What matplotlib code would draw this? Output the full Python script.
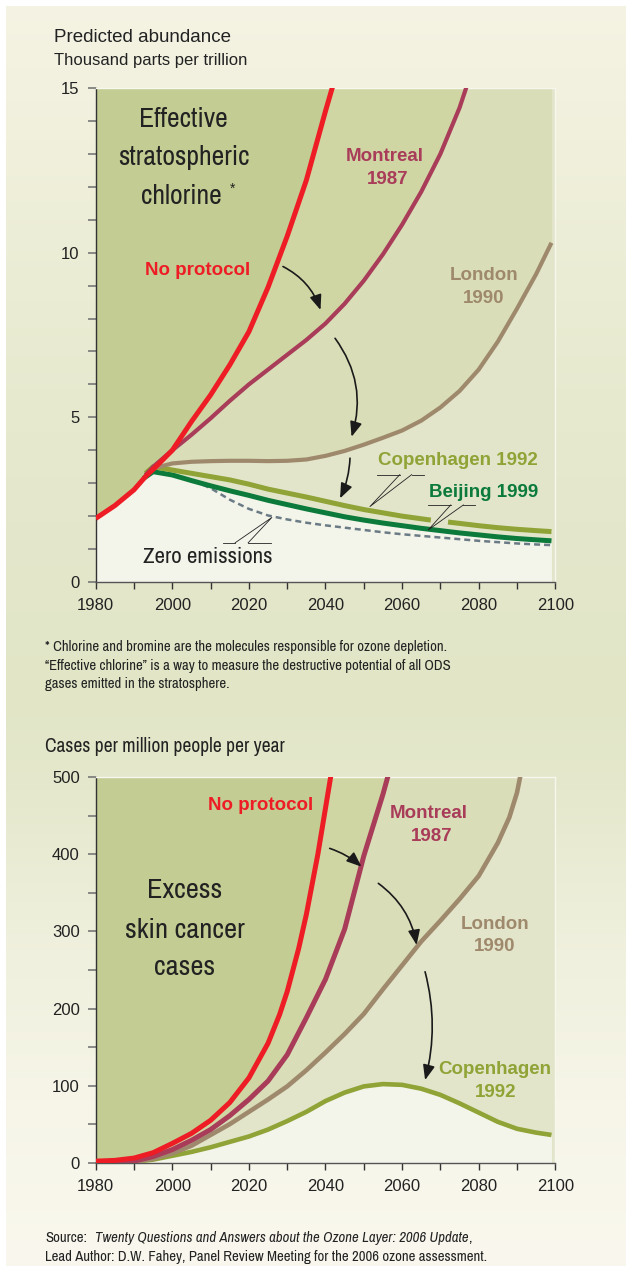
import numpy as np
import matplotlib.pyplot as plt
from matplotlib import font_manager
from matplotlib.colors import to_rgb

# effective stratospheric chlorine, thousand parts per trillion
nop_years = [1980, 1985, 1990, 1993, 1995, 2000, 2005, 2010, 2015, 2020, 2025, 2030, 2035, 2040, 2042]
nop_cl = [1.93, 2.32, 2.8, 3.2, 3.42, 4.0, 4.87, 5.68, 6.59, 7.6, 8.95, 10.5, 12.2, 14.3, 15.1]

mon_years = [1993, 1995, 2000, 2005, 2010, 2015, 2020, 2025, 2030, 2035, 2040, 2045, 2050, 2055, 2060, 2065, 2070, 2075, 2077]
mon_cl = [3.25, 3.5, 4.0, 4.47, 4.97, 5.5, 6.0, 6.45, 6.9, 7.35, 7.85, 8.45, 9.15, 9.95, 10.85, 11.85, 13.0, 14.4, 15.1]

lon_years = [1993, 1995] + list(range(2000, 2100, 5)) + [2099]
lon_cl = [3.25, 3.45, 3.6, 3.65, 3.67, 3.68, 3.68, 3.67, 3.68, 3.72, 3.83, 3.98, 4.17, 4.38, 4.6,
          4.9, 5.3, 5.8, 6.45, 7.3, 8.3, 9.35, 10.3]

cop_years = [1993, 1995, 2000, 2005, 2010, 2015, 2020, 2025, 2030, 2035, 2040, 2045, 2050, 2055, 2060, 2065,
             2067.5, 2070, 2072, 2075, 2080, 2085, 2090, 2095, 2099]
cop_cl = [3.3, 3.5, 3.4, 3.3, 3.2, 3.1, 2.97, 2.82, 2.7, 2.58, 2.45, 2.32, 2.2, 2.1, 2.0, 1.92,
          1.88, np.nan, 1.82, 1.78, 1.71, 1.65, 1.6, 1.56, 1.53]

bj_years = [1992.5, 1995] + list(range(2000, 2100, 5)) + [2099]
bj_cl = [3.15, 3.35, 3.25, 3.08, 2.92, 2.77, 2.63, 2.48, 2.35, 2.22, 2.1, 1.98, 1.88, 1.79, 1.71,
         1.63, 1.56, 1.49, 1.43, 1.37, 1.32, 1.28, 1.25]

zero_years = [2008, 2010] + list(range(2015, 2100, 5)) + [2099]
zero_cl = [2.95, 2.85, 2.5, 2.22, 2.02, 1.9, 1.8, 1.72, 1.65, 1.58, 1.51, 1.45, 1.4, 1.35, 1.3,
           1.25, 1.21, 1.17, 1.14, 1.12]

# excess skin cancer, cases per million people per year
sc_nop_years = [1980, 1985, 1990, 1995, 2000, 2005, 2010, 2015, 2020, 2025, 2028, 2030, 2033, 2035, 2038, 2040, 2041.5]
sc_nop = [2, 3, 6, 13, 25, 38, 55, 78, 110, 155, 192, 222, 278, 322, 400, 460, 505]

sc_mon_years = list(range(1980, 2056, 5)) + [2056.5]
sc_mon = [0, 0, 2, 8, 17, 29, 43, 61, 82, 106, 140, 188, 238, 303, 398, 478, 505]

sc_lon_years = list(range(1980, 2086, 5)) + [2088, 2090, 2091]
sc_lon = [0, 0, 1, 5, 12, 22, 36, 50, 66, 82, 99, 120, 143, 167, 193, 225, 256, 287, 314, 342,
          372, 415, 448, 480, 505]

sc_cop_years = list(range(1980, 2100, 5)) + [2099]
sc_cop = [0, 0, 1, 4, 9, 14, 20, 27, 34, 43, 54, 66, 80, 91, 99, 102, 101, 96, 88, 77, 65, 53, 44, 39, 36]

# colours
C_NOP = '#ee1c25'
C_MON = '#a83c59'
C_LON = '#9f896d'
C_COP = '#8fa336'
C_BJ = '#0b7a3b'
C_ZERO = '#6b7b85'
F_NOP = '#c3cc92'
F_MON = '#d0d6a3'
F_LON = '#d9ddb8'
F_MID = '#e2e5ca'
F_LOW = '#f3f4ea'

names = {f.name for f in font_manager.fontManager.ttflist}
PLAIN = 'Liberation Sans'
NARROW = PLAIN
for cand in ['Liberation Sans Narrow', 'Arial Narrow', 'Archivo Narrow', 'Roboto Condensed',
             'PT Sans Narrow', 'Fira Sans Condensed', 'Sofia Sans Condensed']:
    if cand in names:
        NARROW = cand
        break
# keep widths close to the condensed layout if no narrow face exists
NS = 1.0 if NARROW != PLAIN else 0.82

W, H = 626, 1266
fig = plt.figure(figsize=(W / 100, H / 100), dpi=100)
fig.patch.set_facecolor('white')

# soft vertical page gradient
stop_y = [0, 100, 300, 520, 700, 790, 920, 1100, 1266]
stop_c = ['#f5f4e4', '#f2f1df', '#eaecd3', '#e4e7cb', '#e2e6c7', '#e5e8cc', '#eeefdb', '#f6f5e8', '#faf8ee']
rows = np.arange(H)
rgb = np.array([to_rgb(c) for c in stop_c])
grad = np.stack([np.interp(rows, stop_y, rgb[:, k]) for k in range(3)], axis=1)
bg = fig.add_axes([6 / W, 0, 620 / W, 1260 / H])
bg.imshow(grad[6:, None, :], aspect='auto', extent=[0, 1, 0, 1])
bg.axis('off')


def style_axes(ax, ymax, ymajor, yminor):
    ax.set_facecolor(F_MID)
    ax.set_xlim(1980, 2100)
    ax.set_ylim(0, ymax)
    ax.set_xticks(range(1980, 2101, 20))
    ax.set_xticks(range(1990, 2100, 20), minor=True)
    ax.set_yticks(ymajor)
    ax.set_yticks(yminor, minor=True)
    ax.tick_params(axis='x', which='both', direction='out', length=5.3, width=1.0, color='#333333',
                   pad=6.5, labelsize=12, labelcolor='#222222')
    ax.tick_params(axis='y', which='both', direction='out', length=6, width=1.2, color='#777777',
                   pad=5.5, labelsize=12, labelcolor='#222222')
    for lab in ax.get_xticklabels() + ax.get_yticklabels():
        lab.set_family(PLAIN)
    ax.spines['left'].set_color('#333333')
    ax.spines['left'].set_linewidth(1.0)
    ax.spines['bottom'].set_color('#555555')
    ax.spines['bottom'].set_linewidth(1.0)
    for s in ('top', 'right'):
        ax.spines[s].set_color('#f7f7ee')
        ax.spines[s].set_linewidth(1.0)


def arrow(ax, start, tip, rad):
    ax.annotate('', xy=tip, xytext=start,
                arrowprops=dict(arrowstyle='-|>,head_length=0.5,head_width=0.2', color='#1a1a1a',
                                lw=1.2, mutation_scale=18, shrinkA=0, shrinkB=0,
                                connectionstyle='arc3,rad=%s' % rad), zorder=6)


def label(ax, x, y, s, color, size=13.5):
    ax.text(x, y, s, color=color, fontsize=size, fontweight='bold', family=PLAIN,
            ha='center', va='center', zorder=7)


def big(ax, x, y, s, size):
    ax.text(x, y, s, fontsize=size * NS, family=NARROW, color='#222222', ha='center', va='center', zorder=7)


# ---- chlorine panel ----
ax1 = fig.add_axes([95.7 / W, (H - 582) / H, 459.6 / W, 494 / H])
style_axes(ax1, 15, [0, 5, 10, 15], [v for v in range(1, 15) if v % 5])

ax1.fill_between(lon_years, lon_cl, 15, color=F_LON, lw=0, zorder=1)
ax1.fill_between(mon_years, mon_cl, 15, color=F_MON, lw=0, zorder=1)
ax1.fill_between(nop_years, nop_cl, 15, color=F_NOP, lw=0, zorder=1)
ax1.fill_between(bj_years, 0, bj_cl, color=F_LOW, lw=0, zorder=1)
early = np.array(nop_years) <= 1993
ax1.fill_between(np.array(nop_years)[early], 0, np.array(nop_cl)[early], color=F_LOW, lw=0, zorder=1)

ax1.plot(zero_years, zero_cl, color=C_ZERO, lw=1.8, dashes=(2.4, 1.6), zorder=3)
ax1.plot(bj_years, bj_cl, color=C_BJ, lw=3.6, solid_capstyle='butt', zorder=4)
ax1.plot(cop_years, cop_cl, color=C_COP, lw=3.6, solid_capstyle='butt', zorder=4)
ax1.plot(lon_years, lon_cl, color=C_LON, lw=3.0, solid_capstyle='butt', zorder=4)
ax1.plot(mon_years, mon_cl, color=C_MON, lw=3.0, solid_capstyle='butt', zorder=4)
ax1.plot(nop_years, nop_cl, color=C_NOP, lw=3.6, solid_capstyle='butt', zorder=5)

big(ax1, 2003.0, 14.03, 'Effective', 20)
big(ax1, 2003.0, 12.88, 'stratospheric', 20)
big(ax1, 2002.3, 11.72, 'chlorine', 20)
ax1.text(2015.8, 11.95, '*', fontsize=10, family=PLAIN, color='#222222', ha='center', va='center', zorder=7)

label(ax1, 2006.6, 9.45, 'No protocol', C_NOP)
label(ax1, 2055.5, 12.92, 'Montreal', C_MON)
label(ax1, 2056.2, 12.21, '1987', C_MON)
label(ax1, 2081.3, 9.30, 'London', C_LON)
label(ax1, 2081.3, 8.61, '1990', C_LON)
label(ax1, 2074.6, 3.68, 'Copenhagen 1992', C_COP)
label(ax1, 2081.3, 2.71, 'Beijing 1999', C_BJ)
big(ax1, 2009.3, 0.77, 'Zero emissions', 16.5)

arrow(ax1, (2028.9, 9.58), (2038.7, 8.26), -0.2)
arrow(ax1, (2042.5, 7.40), (2046.8, 4.41), -0.25)
arrow(ax1, (2046.4, 3.76), (2043.8, 2.54), -0.1)

# label leader lines
lk = dict(color='#222222', lw=0.6, zorder=6)
ax1.plot([2053.5, 2059.4], [3.26, 3.26], **lk)
ax1.plot([2062.5, 2065.7], [3.26, 3.26], **lk)
ax1.plot([2059.4, 2051.6, 2062.5], [3.26, 2.29, 3.26], **lk)
ax1.plot([2066.8, 2072.7], [2.34, 2.34], **lk)
ax1.plot([2076.0, 2079.0], [2.34, 2.34], **lk)
ax1.plot([2072.7, 2066.8, 2076.0], [2.34, 1.58, 2.34], **lk)
ax1.plot([2013.3, 2016.4], [1.19, 1.19], **lk)
ax1.plot([2019.8, 2025.7], [1.19, 1.19], **lk)
ax1.plot([2016.4, 2026.0, 2019.8], [1.19, 1.96, 1.19], **lk)

# ---- skin cancer panel ----
ax2 = fig.add_axes([95.7 / W, (H - 1162.7) / H, 459.6 / W, 385.4 / H])
style_axes(ax2, 500, [0, 100, 200, 300, 400, 500], [50, 150, 250, 350, 450])

ax2.fill_between(sc_lon_years, sc_lon, 500, color=F_LON, lw=0, zorder=1)
ax2.fill_between(sc_mon_years, sc_mon, 500, color=F_MON, lw=0, zorder=1)
ax2.fill_between(sc_nop_years, sc_nop, 500, color=F_NOP, lw=0, zorder=1)
ax2.fill_between(sc_cop_years, 0, sc_cop, color=F_LOW, lw=0, zorder=1)

ax2.plot(sc_cop_years, sc_cop, color=C_COP, lw=3.3, solid_capstyle='butt', zorder=4)
ax2.plot(sc_lon_years, sc_lon, color=C_LON, lw=3.3, solid_capstyle='butt', zorder=4)
ax2.plot(sc_mon_years, sc_mon, color=C_MON, lw=3.6, solid_capstyle='butt', zorder=4)
ax2.plot(sc_nop_years, sc_nop, color=C_NOP, lw=3.6, solid_capstyle='butt', zorder=5)

big(ax2, 2003.3, 352.8, 'Excess', 20.5)
big(ax2, 2003.3, 301.8, 'skin cancer', 20.5)
big(ax2, 2003.3, 253.4, 'cases', 20.5)

label(ax2, 2023.1, 464, 'No protocol', C_NOP)
label(ax2, 2066.9, 453, 'Montreal', C_MON)
label(ax2, 2067.6, 423, '1987', C_MON)
label(ax2, 2084.2, 309, 'London', C_LON)
label(ax2, 2084.2, 280, '1990', C_LON)
label(ax2, 2084.2, 121.5, 'Copenhagen', C_COP)
label(ax2, 2084.4, 90.8, '1992', C_COP)

arrow(ax2, (2041.1, 407.8), (2049.4, 384.0), -0.1)
arrow(ax2, (2053.8, 362.4), (2063.8, 282.4), -0.2)
arrow(ax2, (2066.0, 247.7), (2066.0, 107.2), -0.13)


# ---- page text ----
def ftext(x, y, s, size, **kw):
    return fig.text(x / W, 1 - y / H, s, va='center', ha='left', color='#222222', fontsize=size, **kw)


ftext(54, 37, 'Predicted abundance', 13.5, family=PLAIN)
ftext(54, 60, 'Thousand parts per trillion', 12, family=PLAIN)

FN = 10.6 * NS
ftext(45, 647, '* Chlorine and bromine are the molecules responsible for ozone depletion.', FN, family=NARROW)
ftext(45, 666, '\u201cEffective chlorine\u201d is a way to measure the destructive potential of all ODS',
      FN, family=NARROW)
ftext(45, 684, 'gases emitted in the stratosphere.', FN, family=NARROW)

ftext(45, 746, 'Cases per million people per year', 14 * NS, family=NARROW)

renderer = fig.canvas.get_renderer()
head = ftext(45, 1238, 'Source:', FN, family=NARROW)
x_it = head.get_window_extent(renderer).x1 + 8
src = ftext(x_it, 1238, 'Twenty Questions and Answers about the Ozone Layer: 2006 Update', FN,
            family=NARROW, style='italic')
ftext(src.get_window_extent(renderer).x1, 1238, ',', FN, family=NARROW)
ftext(45, 1257, 'Lead Author: D.W. Fahey, Panel Review Meeting for the 2006 ozone assessment.',
      FN, family=NARROW)

fig.savefig('out.png', dpi=100)
